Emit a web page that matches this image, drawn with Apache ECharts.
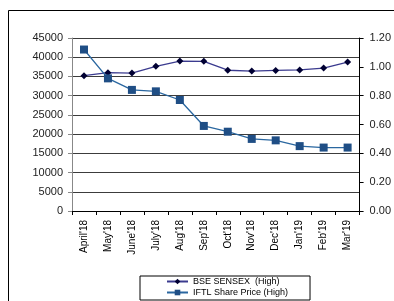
<!DOCTYPE html>
<html>
<head>
<meta charset="utf-8">
<script src="https://cdn.jsdelivr.net/npm/echarts@6/dist/echarts.min.js"></script>
<style>
  html, body { margin: 0; padding: 0; background: #fff; }
  #chart { width: 394px; height: 301px; }
</style>
</head>
<body>
<div id="chart"></div>
<script>
// months on the x axis
var months = ["April'18", "May'18", "June'18", "July'18", "Aug'18", "Sep'18",
              "Oct'18", "Nov'18", "Dec'18", "Jan'19", "Feb'19", "Mar'19"];
// BSE SENSEX monthly high (left axis)
var sensexHigh = [35213, 35993, 35877, 37645, 38990, 38934, 36616, 36389, 36555, 36701, 37172, 38749];
// IFTL share price monthly high (right axis)
var iftlHigh = [1.12, 0.92, 0.84, 0.83, 0.77, 0.59, 0.55, 0.50, 0.49, 0.45, 0.44, 0.44];

var font = 'Liberation Sans, Arial, sans-serif';

var myChart = echarts.init(document.getElementById('chart'));
myChart.setOption({
    animation: false,
    graphic: [
        {
            type: 'rect',
            shape: {x: 8.5, y: 10.5, width: 420, height: 400},
            style: {fill: 'none', stroke: '#000', lineWidth: 1}
        }
    ],
    grid: {left: 72, right: 26, top: 38, bottom: 90},
    legend: {
        orient: 'vertical',
        left: 140,
        top: 276,
        itemWidth: 21,
        itemHeight: 7,
        itemGap: 2,
        padding: [1, 22, 3, 26],
        borderColor: '#000',
        borderWidth: 1,
        textStyle: {fontFamily: font, fontSize: 9, color: '#000'},
        data: ['BSE SENSEX  (High)', 'IFTL Share Price (High)']
    },
    xAxis: {
        type: 'category',
        data: months,
        boundaryGap: true,
        axisLine: {lineStyle: {color: '#000', width: 1}},
        axisTick: {show: true, length: 4, lineStyle: {color: '#000'}},
        axisLabel: {rotate: 90, margin: 9, fontFamily: font, fontSize: 10, color: '#000'}
    },
    yAxis: [
        {
            type: 'value',
            min: 0,
            max: 45000,
            interval: 5000,
            axisLine: {show: true, lineStyle: {color: '#888'}},
            axisTick: {show: true, length: 4, lineStyle: {color: '#888'}},
            axisLabel: {
                margin: 9, fontFamily: font, fontSize: 11, color: '#222',
                formatter: function (v) { return String(v); }
            },
            splitLine: {show: true, lineStyle: {color: '#3c3c3c', width: 1}}
        },
        {
            type: 'value',
            min: 0,
            max: 1.2,
            interval: 0.2,
            axisLine: {show: true, lineStyle: {color: '#000'}},
            axisTick: {show: true, length: 4, lineStyle: {color: '#000'}},
            axisLabel: {
                margin: 10, fontFamily: font, fontSize: 11, color: '#222',
                formatter: function (v) { return v.toFixed(2); }
            },
            splitLine: {show: false}
        }
    ],
    series: [
        {
            name: 'BSE SENSEX  (High)',
            type: 'line',
            yAxisIndex: 0,
            data: sensexHigh,
            symbol: 'diamond',
            symbolSize: 7,
            itemStyle: {color: '#000033'},
            lineStyle: {color: '#3b3b8f', width: 1.3}
        },
        {
            name: 'IFTL Share Price (High)',
            type: 'line',
            yAxisIndex: 1,
            data: iftlHigh,
            symbol: 'rect',
            symbolSize: 8,
            itemStyle: {color: '#1f4e85'},
            lineStyle: {color: '#2a67a0', width: 1.3}
        }
    ]
});
</script>
</body>
</html>
